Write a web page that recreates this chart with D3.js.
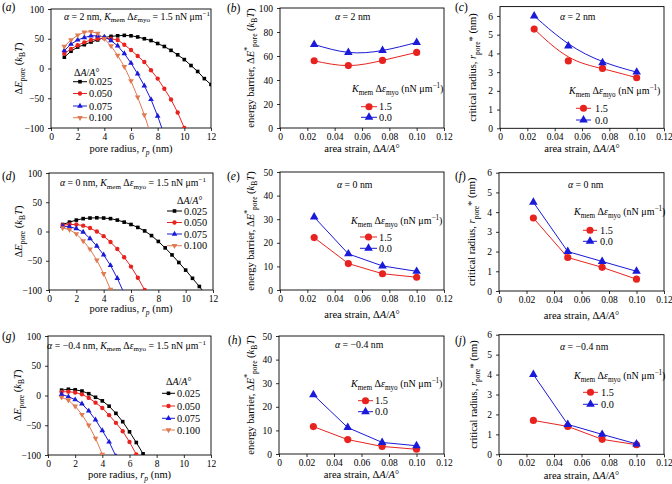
<!DOCTYPE html>
<html>
<head>
<meta charset="utf-8">
<script src="https://cdn.jsdelivr.net/npm/d3@7"></script>
<style>
body { margin: 0; background: #fff; }
text { font-family: "Liberation Serif", "Times New Roman", serif; fill: #000; }
</style>
</head>
<body>
<svg id="fig" width="672" height="484"></svg>
<script>
// pore radius grid (nm), shared by the energy curves
const radius = [1, 1.5, 2, 2.5, 3, 3.5, 4, 4.5, 5, 5.5, 6, 6.5, 7, 7.5, 8, 8.5, 9, 9.5, 10, 10.5, 11, 11.5, 12];
const strainLabels = ["0.025", "0.050", "0.075", "0.100"];
const strain = [0.025, 0.05, 0.075, 0.1];
const kLabels = ["1.5", "0.0"];

// (a) alpha = 2 nm
const eA025 = [19, 29, 36, 40, 44.5, 48, 52, 54, 55, 55.7, 55, 53, 50, 47, 42, 37, 30.5, 23, 15, 5, -5, -17, -27];
const eA050 = [25, 33, 39, 44, 48, 50, 51, 50, 48, 40, 31, 21, 11, -3, -17, -34, -52, -74, -100];
const eA075 = [30, 41, 48, 52, 55, 55, 53, 47, 38, 25, 9, -9, -29, -52, -80, -112];
const eA100 = [37, 48, 56, 61, 62, 59, 50, 38, 22, 3, -21, -48, -78, -112];
// (d) alpha = 0 nm
const eD025 = [12, 16, 19.5, 22, 23, 23.5, 23, 22, 19.5, 16, 12, 7, 1, -7, -17, -28, -40, -53, -66, -80, -94, -109];
const eD050 = [11, 12, 12, 10, 6, 0, -8, -18, -30, -44, -60, -79, -100];
const eD075 = [9, 8, 5, -1, -12, -25, -40, -58, -80, -106];
const eD100 = [6, 3, -4, -16, -30, -49, -72, -99];
// (g) alpha = -0.4 nm
const eG025 = [9, 10.5, 9.5, 7.5, 3, -3, -9, -18, -30, -44, -61, -79, -98];
const eG050 = [6, 6.5, 5, 2, -4, -12, -21, -33, -46, -60, -78, -99];
const eG075 = [2, -2, -7, -14, -26, -41, -59, -78, -102];
const eG100 = [-3, -8, -18, -32, -50, -72, -99];

// energy barriers (kBT) and critical radii (nm), K dEps = 1.5 and 0.0
const barB15 = [56, 52, 56.3, 63];
const barB00 = [69.6, 63, 64.6, 71.3];
const radC15 = [5.3, 3.6, 3.2, 2.7];
const radC00 = [6.0, 4.4, 3.5, 3.0];
const barE15 = [22.2, 11.2, 6.9, 5.4];
const barE00 = [30.9, 15.3, 10.2, 7.9];
const radF15 = [3.7, 1.7, 1.2, 0.6];
const radF00 = [4.5, 2.0, 1.5, 1.0];
const barH15 = [11.6, 6.1, 3.2, 2.0];
const barH00 = [25.1, 11.2, 4.9, 3.5];
const radJ15 = [1.7, 1.4, 0.75, 0.48];
const radJ00 = [4.0, 1.5, 1.0, 0.52];

const colors = ["#000000", "#e8231f", "#1a1ad8", "#e07a52"];
const symbols = [d3.symbolSquare, d3.symbolCircle, d3.symbolTriangle, d3.symbolTriangle];

const svg = d3.select("#fig");

// tiny markup: [x] italic, _{x} subscript, ^{x} superscript
function rich(sel, str, fs) {
  const re = /(_\{[^}]*\}|\^\{[^}]*\}|\[[^\]]*\]|[^_^\[]+)/g;
  let m, off = 0;
  while ((m = re.exec(str)) !== null) {
    let tok = m[0], pos = 0, size = fs, it = false;
    if (tok[0] === "_" || tok[0] === "^") {
      pos = tok[0] === "_" ? fs * 0.3 : -fs * 0.38;
      tok = tok.slice(2, -1);
      size = fs * 0.72;
    }
    if (tok[0] === "[") { it = true; tok = tok.slice(1, -1); }
    sel.append("tspan")
      .attr("dy", pos - off)
      .attr("font-size", size)
      .attr("font-style", it ? "italic" : null)
      .text(tok);
    off = pos;
  }
  return sel;
}

function label(x, y, str, fs, anchor, rot) {
  const t = svg.append("text")
    .attr("x", x).attr("y", y)
    .attr("font-size", fs)
    .attr("text-anchor", anchor || "start");
  if (rot) t.attr("transform", `rotate(-90,${x},${y})`);
  return rich(t, str, fs);
}

function marker(g, x, y, k, size) {
  g.append("path")
    .attr("d", d3.symbol(symbols[k], size)())
    .attr("transform", `translate(${x},${y})` + (k === 3 ? " rotate(180)" : ""))
    .attr("fill", colors[k]);
}

const strainFmt = v => v === 0 ? "0" : d3.format(".2f")(v);

function porePanel(id, box, sets, annot, leg) {
  return {
    id, box, xd: [0, 12], yd: [-100, 100],
    xt: [0, 2, 4, 6, 8, 10, 12], yt: [-100, -50, 0, 50, 100], xf: d3.format("d"),
    series: sets.map((v, i) => ({ xs: radius.slice(0, v.length), ys: v, k: i })),
    curve: d3.curveLinear, msize: [13, 15, 14, 14],
    xlab: "pore radius, [r]_{[p]} (nm)", ylab: "Δ[E]_{pore} ([k]_{B}[T])",
    annot, leg: Object.assign({ title: "Δ[A]/[A]°", names: strainLabels }, leg)
  };
}

function strainPanel(id, box, yd, yt, sets, ylab, curve, annot, leg) {
  return {
    id, box, xd: [0, 0.12], yd,
    xt: [0, 0.02, 0.04, 0.06, 0.08, 0.1, 0.12], yt, xf: strainFmt,
    series: sets.map((v, i) => ({ xs: strain, ys: v, k: i + 1 })),
    curve, msize: [0, 40, 32, 0],
    xlab: "area strain, Δ[A]/[A]°", ylab, annot,
    leg: Object.assign({ title: "[K]_{mem} Δ[ε]_{myo} (nN μm^{−1})", names: kLabels }, leg)
  };
}

const barLab = "energy barrier, Δ[E]^{*}_{pore} ([k]_{B}[T])";
const radLab = "critical radius, [r]_{pore}* (nm)";
const tick50 = [0, 10, 20, 30, 40, 50];
const tick6 = [0, 1, 2, 3, 4, 5, 6];

const panels = [
  porePanel("a", [51, 211, 9, 128], [eA025, eA050, eA075, eA100],
    { x: 210, y: 19.5, s: "[α] = 2 nm, [K]_{mem} Δ[ε]_{myo} = 1.5 nN μm^{−1}", a: "end" },
    { tx: 74, ty: 75.5, ys: [81.7, 93.5, 106, 117.7], l: [73, 87], t: 89 }),
  strainPanel("b", [280, 444, 8, 128], [0, 100], [0, 20, 40, 60, 80, 100], [barB15, barB00], barLab, d3.curveNatural,
    { x: 335, y: 19.5, s: "[α] = 2 nm" },
    { tx: 352, ty: 92, ys: [106.7, 117.3], l: [361, 377], t: 379 }),
  strainPanel("c", [500, 664, 6.6, 128.3], [0, 6.5], tick6, [radC15, radC00], radLab, d3.curveBasis,
    { x: 560, y: 19.5, s: "[α] = 2 nm" },
    { tx: 569, ty: 93.5, ys: [108.3, 120], l: [576, 591], t: 595 }),
  porePanel("d", [49, 213, 173, 290], [eD025, eD050, eD075, eD100],
    { x: 206, y: 186, s: "[α] = 0 nm, [K]_{mem} Δ[ε]_{myo} = 1.5 nN μm^{−1}", a: "end" },
    { tx: 177, ty: 203.5, ys: [211, 222.5, 234, 245.7], l: [167, 182], t: 184 }),
  strainPanel("e", [280, 444, 172, 290], [0, 50], tick50, [barE15, barE00], barLab, d3.curveLinear,
    { x: 337, y: 187.5, s: "[α] = 0 nm" },
    { tx: 351, ty: 224, ys: [237, 248.3], l: [360, 377], t: 379 }),
  strainPanel("f", [499, 664, 172.7, 291], [0, 6], tick6, [radF15, radF00], radLab, d3.curveLinear,
    { x: 568, y: 187.5, s: "[α] = 0 nm" },
    { tx: 574, ty: 215, ys: [230.3, 241.3], l: [583, 597], t: 600 }),
  porePanel("g", [48, 211, 336, 455], [eG025, eG050, eG075, eG100],
    { x: 206, y: 348.5, s: "[α] = −0.4 nm, [K]_{mem} Δ[ε]_{myo} = 1.5 nN μm^{−1}", a: "end" },
    { tx: 166, ty: 384.5, ys: [393.3, 406, 418.3, 430], l: [162, 175], t: 177 }),
  strainPanel("h", [279, 444, 336, 454], [0, 50], tick50, [barH15, barH00], barLab, d3.curveLinear,
    { x: 335, y: 347.5, s: "[α] = −0.4 nm" },
    { tx: 351, ty: 387, ys: [400.7, 411.7], l: [358, 373], t: 375 }),
  strainPanel("j", [499, 664, 334.7, 454.3], [0, 6], tick6, [radJ15, radJ00], radLab, d3.curveLinear,
    { x: 560, y: 349.5, s: "[α] = −0.4 nm" },
    { tx: 574, ty: 378.5, ys: [392.3, 404.3], l: [583, 598], t: 601 })
];

// label positions read per panel: [panel letter x, baseline y, y-label x, x-label baseline]
const labelPos = {
  a: [2, 11, 21.5, 152], b: [227, 12, 253.5, 152], c: [455, 11, 476.5, 152],
  d: [2, 180, 21.5, 312], e: [227, 180, 253.5, 318], f: [455, 180, 475.5, 319],
  g: [2, 340, 20.5, 478], h: [228, 344, 253.5, 477.5], j: [455, 344, 476.5, 478.5]
};

panels.forEach(p => {
  const [x0, x1, y0, y1] = p.box;
  const x = d3.scaleLinear().domain(p.xd).range([x0, x1]);
  const y = d3.scaleLinear().domain(p.yd).range([y1, y0]);
  const g = svg.append("g");

  svg.append("clipPath").attr("id", "clip-" + p.id)
    .append("rect").attr("x", x0).attr("y", y0).attr("width", x1 - x0).attr("height", y1 - y0);

  const ax = g.append("g").attr("transform", `translate(0,${y1})`)
    .call(d3.axisBottom(x).tickValues(p.xt).tickFormat(p.xf).tickSize(3).tickPadding(2).tickSizeOuter(0));
  const ay = g.append("g").attr("transform", `translate(${x0},0)`)
    .call(d3.axisLeft(y).tickValues(p.yt).tickFormat(d3.format("d")).tickSize(3).tickSizeOuter(0));
  [ax, ay].forEach(a => {
    a.selectAll("text").attr("font-size", 9.5).attr("font-family", '"Liberation Serif", serif').attr("fill", "#000");
    a.selectAll("line").attr("stroke", "#000").attr("stroke-width", 0.8);
    a.select(".domain").remove();
  });
  ay.selectAll("text").attr("dx", "-0.1em");

  g.append("rect").attr("x", x0).attr("y", y0).attr("width", x1 - x0).attr("height", y1 - y0)
    .attr("fill", "none").attr("stroke", "#000").attr("stroke-width", 0.9);

  const plot = g.append("g").attr("clip-path", `url(#clip-${p.id})`);
  const line = d3.line().x(d => x(d[0])).y(d => y(d[1])).curve(p.curve);
  p.series.forEach(s => {
    const pts = s.xs.map((v, i) => [v, s.ys[i]]);
    plot.append("path").attr("d", line(pts))
      .attr("fill", "none").attr("stroke", colors[s.k]).attr("stroke-width", 1);
    pts.forEach(d => marker(plot, x(d[0]), y(d[1]), s.k, p.msize[s.k]));
  });

  // legend
  const L = p.leg;
  label(L.tx, L.ty, L.title, 10);
  p.series.forEach((s, i) => {
    const ly = L.ys[i];
    g.append("line").attr("x1", L.l[0]).attr("x2", L.l[1]).attr("y1", ly).attr("y2", ly)
      .attr("stroke", colors[s.k]).attr("stroke-width", 1);
    marker(g, (L.l[0] + L.l[1]) / 2, ly, s.k, p.msize[s.k]);
    label(L.t, ly + 3.5, L.names[i], 10.3);
  });

  // annotation, panel letter, axis titles
  label(p.annot.x, p.annot.y, p.annot.s, 9.8, p.annot.a);
  const lp = labelPos[p.id];
  label(lp[0], lp[1], "([" + p.id + "])", 11.5);
  label(lp[2], (y0 + y1) / 2, p.ylab, 10.5, "middle", true);
  label((x0 + x1) / 2, lp[3], p.xlab, 10.5, "middle");
});
</script>
</body>
</html>
